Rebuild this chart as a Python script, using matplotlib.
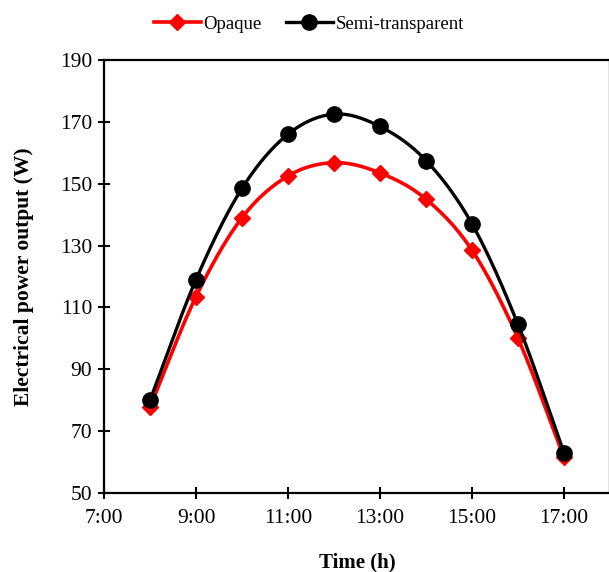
import numpy as np
import matplotlib
matplotlib.use("Agg")
from matplotlib import pyplot as plt

hours = [8, 9, 10, 11, 12, 13, 14, 15, 16, 17]
opaque = [77.8, 113.5, 139.0, 152.5, 156.8, 153.5, 145.0, 128.5, 100.0, 61.5]
semi = [80.0, 119.0, 148.5, 166.0, 172.5, 168.5, 157.5, 137.0, 104.5, 63.0]
xticks = [7, 9, 11, 13, 15, 17]
xlabels = ["7:00", "9:00", "11:00", "13:00", "15:00", "17:00"]
yticks = [50, 70, 90, 110, 130, 150, 170, 190]


def smooth(x, y, n=30):
    # excel-like smoothed line (catmull-rom through the points)
    x = np.asarray(x, float)
    y = np.asarray(y, float)
    px = np.concatenate([[2 * x[0] - x[1]], x, [2 * x[-1] - x[-2]]])
    py = np.concatenate([[2 * y[0] - y[1]], y, [2 * y[-1] - y[-2]]])
    xs, ys = [], []
    t = np.linspace(0, 1, n)
    for i in range(1, len(px) - 2):
        for p, out in ((px, xs), (py, ys)):
            p0, p1, p2, p3 = p[i - 1], p[i], p[i + 1], p[i + 2]
            out.extend(0.5 * ((2 * p1) + (-p0 + p2) * t
                              + (2 * p0 - 5 * p1 + 4 * p2 - p3) * t ** 2
                              + (-p0 + 3 * p1 - 3 * p2 + p3) * t ** 3))
    return xs, ys


plt.rcParams['font.family'] = ['Liberation Serif', 'DejaVu Serif']

fig = plt.figure(figsize=(6.09, 5.72), dpi=100)
ax = fig.add_axes([104 / 609, 79 / 572, 506 / 609, 433 / 572])

ax.plot(*smooth(hours, opaque), color='#ff0000', lw=2.6, zorder=2)
ax.plot(hours, opaque, ls='none', marker='D', ms=8, color='#ff0000', zorder=3)
ax.plot(*smooth(hours, semi), color='black', lw=2.4, zorder=4)
ax.plot(hours, semi, ls='none', marker='o', ms=11, color='black', zorder=5)

# legend proxies
ax.plot([], [], color='#ff0000', lw=2.6, marker='D', ms=8, label='Opaque')
ax.plot([], [], color='black', lw=2.4, marker='o', ms=11, label='Semi-transparent')
ax.legend(loc='lower center', bbox_to_anchor=(0.405, 1.046), ncol=2, frameon=False,
          fontsize=13.5, handlelength=2.5, handletextpad=0.15, columnspacing=1.3,
          borderaxespad=0)

ax.set_xlim(7, 18)
ax.set_ylim(50, 190)
ax.set_xticks(xticks)
ax.set_xticklabels(xlabels)
ax.set_yticks(yticks)
ax.tick_params(direction='inout', length=9, width=1.5, labelsize=15.5)
ax.tick_params(axis='y', pad=4)
ax.tick_params(axis='x', pad=7)
for s in ax.spines.values():
    s.set_linewidth(1.6)

ax.set_xlabel('Time (h)', fontsize=15, fontweight='bold', labelpad=18)
ax.set_ylabel('Electrical power output (W)', fontsize=15.5, fontweight='bold', labelpad=19)

fig.savefig('out.png', dpi=100)
